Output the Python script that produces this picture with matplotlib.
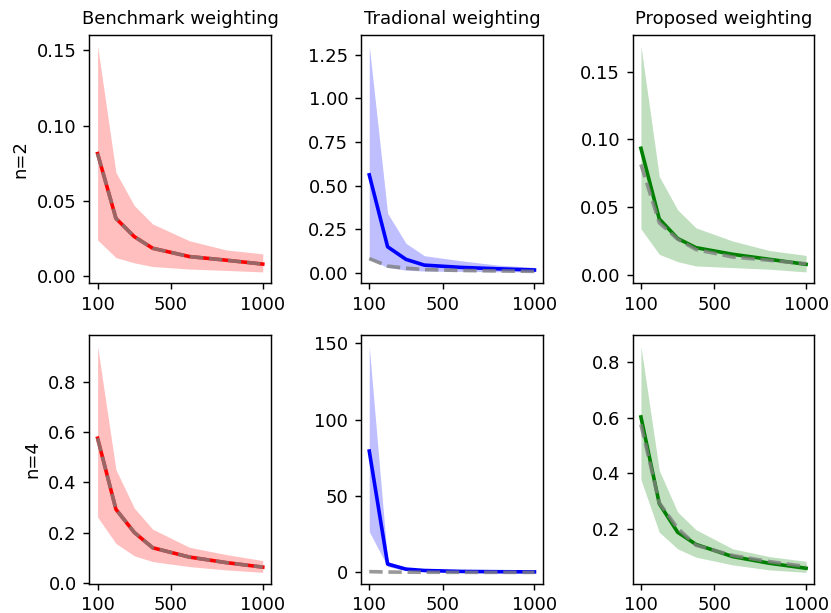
import matplotlib
matplotlib.use("Agg")
import matplotlib.pyplot as plt

x = [100, 200, 300, 400, 600, 800, 1000]
titles = ["Benchmark weighting", "Tradional weighting", "Proposed weighting"]
row_labels = ["n=2", "n=4"]
xticks = [100, 500, 1000]

# n = 2
bench_mean_n2 = [0.0815, 0.0385, 0.0264, 0.0187, 0.0132, 0.0108, 0.0082]
bench_upper_n2 = [0.153, 0.069, 0.047, 0.0348, 0.0237, 0.0176, 0.0150]
bench_lower_n2 = [0.0242, 0.0125, 0.0090, 0.0066, 0.0049, 0.0040, 0.0030]

trad_mean_n2 = [0.561, 0.149, 0.077, 0.044, 0.031, 0.023, 0.016]
trad_upper_n2 = [1.30, 0.341, 0.169, 0.098, 0.069, 0.044, 0.031]
trad_lower_n2 = [0.077, 0.031, 0.015, 0.010, 0.008, 0.006, 0.005]

prop_mean_n2 = [0.0934, 0.0413, 0.0269, 0.0201, 0.0152, 0.0115, 0.0078]
prop_upper_n2 = [0.169, 0.0726, 0.048, 0.0347, 0.025, 0.018, 0.0144]
prop_lower_n2 = [0.034, 0.0152, 0.0098, 0.0066, 0.0054, 0.0042, 0.0022]

# n = 4
bench_mean_n4 = [0.576, 0.293, 0.201, 0.140, 0.103, 0.081, 0.063]
bench_upper_n4 = [0.942, 0.451, 0.298, 0.214, 0.142, 0.113, 0.089]
bench_lower_n4 = [0.262, 0.157, 0.108, 0.085, 0.065, 0.052, 0.042]

trad_mean_n4 = [79.4, 5.5, 2.2, 1.3, 0.7, 0.5, 0.4]
trad_upper_n4 = [147.9, 7.2, 3.3, 2.0, 1.2, 0.9, 0.7]
trad_lower_n4 = [26.7, 3.9, 1.2, 0.7, 0.4, 0.3, 0.2]

prop_mean_n4 = [0.603, 0.290, 0.187, 0.143, 0.099, 0.075, 0.057]
prop_upper_n4 = [0.858, 0.41, 0.26, 0.196, 0.127, 0.099, 0.082]
prop_lower_n4 = [0.377, 0.187, 0.127, 0.097, 0.069, 0.051, 0.042]

colors = ["red", "blue", "green"]

rows = [
    [(bench_mean_n2, bench_lower_n2, bench_upper_n2),
     (trad_mean_n2, trad_lower_n2, trad_upper_n2),
     (prop_mean_n2, prop_lower_n2, prop_upper_n2)],
    [(bench_mean_n4, bench_lower_n4, bench_upper_n4),
     (trad_mean_n4, trad_lower_n4, trad_upper_n4),
     (prop_mean_n4, prop_lower_n4, prop_upper_n4)],
]
gray_ref = [bench_mean_n2, bench_mean_n4]

dpi = 130
fig, axes = plt.subplots(2, 3, figsize=(831 / dpi, 613 / dpi), dpi=dpi)
fig.subplots_adjust(left=0.1075, right=0.980, top=0.9437, bottom=0.0478,
                    wspace=0.495, hspace=0.208)

for r in range(2):
    for c in range(3):
        ax = axes[r, c]
        mean, lo, hi = rows[r][c]
        ax.fill_between(x, lo, hi, color=colors[c], alpha=0.25, linewidth=0)
        ax.plot(x, mean, color=colors[c], lw=2)
        ax.plot(x, gray_ref[r], color="gray", ls="--", lw=2, alpha=0.8)
        ax.set_xticks(xticks)
        if r == 0:
            ax.set_title(titles[c], fontsize=10)
        if c == 0:
            ax.set_ylabel(row_labels[r])

fig.savefig("out.png", dpi=dpi)
